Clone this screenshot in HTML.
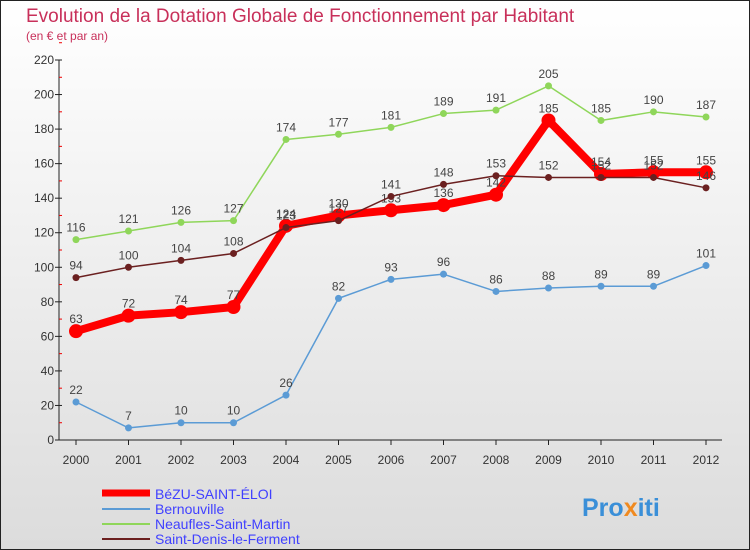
<!DOCTYPE html>
<html><head><meta charset="utf-8"><style>
body{margin:0;width:750px;height:550px;overflow:hidden;font-family:"Liberation Sans",sans-serif}
svg{display:block}
</style></head><body>
<svg id="chart" width="750" height="550" xmlns="http://www.w3.org/2000/svg">
<defs><linearGradient id="bg" x1="0" y1="0" x2="0" y2="1"><stop offset="0" stop-color="#ffffff"/><stop offset="1" stop-color="#dcdcdc"/></linearGradient></defs>
<rect x="0.5" y="0.5" width="749" height="549" fill="url(#bg)" stroke="#222"/>
<text x="26" y="22" font-size="19" fill="#c8305a">Evolution de la Dotation Globale de Fonctionnement par Habitant</text>
<text x="26" y="40" font-size="12" fill="#c8305a">(en € et par an)</text>
<g id="axes"></g><g id="series"></g>
<g>
<line x1="102" y1="493" x2="150" y2="493" stroke="#f00" stroke-width="7"/>
<text x="155" y="499" font-size="14" fill="#4040ff">BéZU-SAINT-ÉLOI</text>
<line x1="102" y1="509" x2="150" y2="509" stroke="#5b9bd5" stroke-width="2"/>
<text x="155" y="514" font-size="14" fill="#4040ff">Bernouville</text>
<line x1="102" y1="524" x2="150" y2="524" stroke="#8fd65a" stroke-width="2"/>
<text x="155" y="529" font-size="14" fill="#4040ff">Neaufles-Saint-Martin</text>
<line x1="102" y1="539" x2="150" y2="539" stroke="#6b2020" stroke-width="2"/>
<text x="155" y="544" font-size="14" fill="#4040ff">Saint-Denis-le-Ferment</text>
</g>
<text x="582" y="516" font-size="25" font-weight="bold" fill="#3a8fd8">Pro<tspan fill="#f08a20">x</tspan>iti</text>
</svg>
<script>
const years=[2000,2001,2002,2003,2004,2005,2006,2007,2008,2009,2010,2011,2012];
const yTicks=[0,20,40,60,80,100,120,140,160,180,200,220];
const bezu=[63,72,74,77,124,130,133,136,142,185,154,155,155];
const bernouville=[22,7,10,10,26,82,93,96,86,88,89,89,101];
const neaufles=[116,121,126,127,174,177,181,189,191,205,185,190,187];
const saintDenis=[94,100,104,108,123,127,141,148,153,152,152,152,146];
const NS="http://www.w3.org/2000/svg";
const X=i=>76+i*52.5, Y=v=>440-v*380/220;
function mk(t,a,p){const e=document.createElementNS(NS,t);for(const k in a)e.setAttribute(k,a[k]);p.appendChild(e);return e;}
const ax=document.getElementById('axes');
const yl=mk('line',{x1:59,y1:60,x2:59,y2:440,stroke:'#222'},ax);


const xl=mk('line',{x1:59,y1:440,x2:722,y2:440,stroke:'#222'},ax);


yTicks.forEach(v=>{
 mk('line',{x1:55,y1:Y(v),x2:62,y2:Y(v),stroke:'#222'},ax);
 mk('line',{x1:59,y1:Y(v+10),x2:62,y2:Y(v+10),stroke:'#e00'},ax);
 const t=mk('text',{x:54,y:Y(v)+4,'font-size':12,'text-anchor':'end',fill:'#333'},ax);t.textContent=v;
 
 
});
years.forEach((y,i)=>{
 mk('line',{x1:X(i),y1:440,x2:X(i),y2:445,stroke:'#222'},ax);
 const t=mk('text',{x:X(i),y:464,'font-size':12,'text-anchor':'middle',fill:'#333'},ax);t.textContent=y;
 
 
});
const sg=document.getElementById('series');
function draw(data,color,w,r,name,labelColor){
 const g=mk('g',{},sg);
 
 
 const pl=mk('polyline',{points:data.map((v,i)=>X(i)+','+Y(v)).join(' '),fill:'none',stroke:color,'stroke-width':w,'stroke-linejoin':'round'},g);
 
 
 data.forEach((v,i)=>{
  const c=mk('circle',{cx:X(i),cy:Y(v),r:r,fill:color},g);
  
  
  const t=mk('text',{x:X(i),y:Y(v)-8,'font-size':12,'text-anchor':'middle',fill:'#444'},g);t.textContent=v;
  
  
 });
}
draw(neaufles,'#8fd65a',1.5,3.5,'neaufles');
draw(bernouville,'#5b9bd5',1.5,3.5,'bernouville');
draw(bezu,'#f00',8,7,'bezu');
draw(saintDenis,'#6b2020',1.5,3.5,'saint-denis');
</script>
</body></html>
